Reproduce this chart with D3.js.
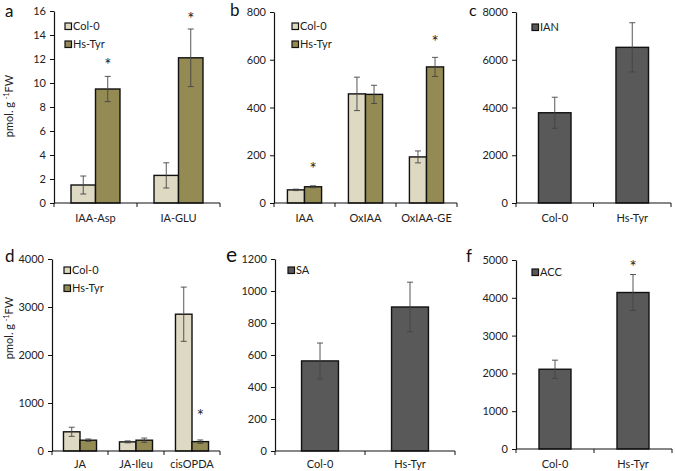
<!DOCTYPE html>
<html><head><meta charset="utf-8">
<script src="https://cdn.jsdelivr.net/npm/d3@7"></script>
<style>
html,body{margin:0;padding:0;background:#fff;}
svg{display:block;font-family:Lato,"Open Sans","Liberation Sans",sans-serif;}
</style></head>
<body><svg id="c" width="675" height="471"></svg>
<script>
// ---- data ----
const seriesNames = ["Col-0", "Hs-Tyr"];

const aCategories = ["IAA-Asp", "IA-GLU"];
const aCol0 = [1.5, 2.3];
const aCol0Err = [0.75, 1.05];
const aHsTyr = [9.5, 12.1];
const aHsTyrErr = [1.05, 2.4];
const aStars = [null, null, 11.8, 15.7]; // [col0..., hstyr...]
const aTicks = [0, 2, 4, 6, 8, 10, 12, 14, 16];

const bCategories = ["IAA", "OxIAA", "OxIAA-GE"];
const bCol0 = [55, 457, 193];
const bCol0Err = [3, 70, 25];
const bHsTyr = [68, 455, 570];
const bHsTyrErr = [4, 38, 40];
const bStars = [null, null, null, 160, null, 690];
const bTicks = [0, 200, 400, 600, 800];

const cCategories = ["Col-0", "Hs-Tyr"];
const cIAN = [3780, 6520];
const cIANErr = [650, 1030];
const cStars = [null, null];
const cTicks = [0, 2000, 4000, 6000, 8000];

const dCategories = ["JA", "JA-Ileu", "cisOPDA"];
const dCol0 = [400, 190, 2850];
const dCol0Err = [95, 20, 565];
const dHsTyr = [225, 225, 195];
const dHsTyrErr = [25, 45, 35];
const dStars = [null, null, null, null, null, 810];
const dTicks = [0, 1000, 2000, 3000, 4000];

const eCategories = ["Col-0", "Hs-Tyr"];
const eSA = [563, 900];
const eSAErr = [112, 155];
const eStars = [null, null];
const eTicks = [0, 200, 400, 600, 800, 1000, 1200];

const fCategories = ["Col-0", "Hs-Tyr"];
const fACC = [2110, 4140];
const fACCErr = [240, 475];
const fStars = [null, 4920];
const fTicks = [0, 1000, 2000, 3000, 4000, 5000];

// ---- styles ----
const COL0 = "#ddd9c3", HSTYR = "#948a54", GREY = "#595959";
const FS = 11;
const svg = d3.select("#c");

function panel(cfg) {
  const g = svg.append("g");
  const y = d3.scaleLinear().domain([0, cfg.ymax]).range([cfg.yBot, cfg.yTop]);
  const x = d3.scaleBand().domain(cfg.categories).range([cfg.x0, cfg.x1]).paddingInner(0).paddingOuter(0);
  const groupW = x.bandwidth() * cfg.ratio;
  const sx = d3.scaleBand().domain(d3.range(cfg.series.length)).range([0, groupW]);

  const bars = [];
  cfg.series.forEach((s, si) => {
    s.values.forEach((v, ci) => {
      bars.push({cat: cfg.categories[ci], si, v, err: s.err[ci], color: s.color,
                 star: cfg.stars[si * cfg.categories.length + ci]});
    });
  });
  const bx = d => x(d.cat) + (x.bandwidth() - groupW) / 2 + sx(d.si);

  g.selectAll("rect.bar").data(bars).join("rect")
    .attr("x", bx).attr("width", sx.bandwidth())
    .attr("y", d => y(d.v)).attr("height", d => y(0) - y(d.v))
    .attr("fill", d => d.color).attr("stroke", "#111").attr("stroke-width", 1.4);

  const eb = g.selectAll("g.err").data(bars).join("g").attr("stroke", "#444").attr("stroke-width", 0.9);
  eb.append("line")
    .attr("x1", d => bx(d) + sx.bandwidth() / 2).attr("x2", d => bx(d) + sx.bandwidth() / 2)
    .attr("y1", d => y(d.v - d.err)).attr("y2", d => y(d.v + d.err));
  [1, -1].forEach(sgn => {
    eb.append("line")
      .attr("x1", d => bx(d) + sx.bandwidth() / 2 - 3).attr("x2", d => bx(d) + sx.bandwidth() / 2 + 3)
      .attr("y1", d => y(d.v + sgn * d.err)).attr("y2", d => y(d.v + sgn * d.err));
  });

  g.selectAll("text.star").data(bars.filter(d => d.star != null)).join("text")
    .attr("x", d => bx(d) + sx.bandwidth() / 2).attr("y", d => y(d.star) + 10)
    .attr("text-anchor", "middle").attr("font-size", 17).attr("fill", "#222").text("*");

  // y axis
  const ya = g.append("g").attr("transform", `translate(${cfg.x0},0)`)
    .call(d3.axisLeft(y).tickValues(cfg.ticks).tickSize(4).tickSizeOuter(0).tickFormat(d3.format("d")));
  ya.attr("font-family", null);
  ya.select(".domain").attr("stroke", "#111").attr("stroke-width", 1.2);
  ya.selectAll(".tick line").attr("stroke", "#111");
  ya.selectAll(".tick text").attr("font-size", FS).attr("fill", "#222").attr("x", -8);

  // x axis with ticks at category boundaries
  const xa = g.append("g").attr("transform", `translate(0,${cfg.yBot})`);
  xa.append("line").attr("x1", cfg.x0).attr("x2", cfg.x1).attr("stroke", "#111").attr("stroke-width", 1.2);
  const bounds = cfg.categories.map(c => x(c)).concat([cfg.x1]);
  xa.selectAll("line.t").data(bounds).join("line")
    .attr("x1", d => d).attr("x2", d => d).attr("y1", 0).attr("y2", 4).attr("stroke", "#111");
  xa.selectAll("text").data(cfg.categories).join("text")
    .attr("x", d => x(d) + x.bandwidth() / 2).attr("y", cfg.catDy)
    .attr("text-anchor", "middle").attr("font-size", FS).attr("fill", "#222").text(d => d);

  // legend
  cfg.series.forEach((s, i) => {
    const ly = cfg.legY + i * 18;
    g.append("rect").attr("x", cfg.legX).attr("y", ly).attr("width", 6.5).attr("height", 6.5)
      .attr("fill", s.color).attr("stroke", "#111").attr("stroke-width", 1.2);
    g.append("text").attr("x", cfg.legX + 8).attr("y", ly + 7).attr("font-size", FS).attr("fill", "#222").text(s.name);
  });

  // panel letter
  g.append("text").attr("x", cfg.letX).attr("y", cfg.letY).attr("font-size", cfg.letFs).attr("fill", "#111").text(cfg.letter);

  if (cfg.yLabel) {
    const t = g.append("text").attr("transform", `translate(${cfg.yLabel[0]},${cfg.yLabel[1]}) rotate(-90)`)
      .attr("text-anchor", "middle").attr("font-size", FS).attr("fill", "#222");
    t.append("tspan").text("pmol. g ");
    t.append("tspan").attr("font-size", 7).attr("dy", -4).text("-1");
    t.append("tspan").attr("dy", 4).text("FW");
  }
}

panel({letter: "a", letX: 5, letY: 17, letFs: 17, categories: aCategories, ymax: 16, ticks: aTicks, catDy: 19,
  x0: 54, x1: 220, yTop: 11, yBot: 203, ratio: 0.59, legX: 65, legY: 23, stars: aStars, yLabel: [13, 106],
  series: [{name: seriesNames[0], values: aCol0, err: aCol0Err, color: COL0},
           {name: seriesNames[1], values: aHsTyr, err: aHsTyrErr, color: HSTYR}]});

panel({letter: "b", letX: 230, letY: 16, letFs: 17, categories: bCategories, ymax: 800, ticks: bTicks, catDy: 19,
  x0: 274, x1: 457, yTop: 12, yBot: 203, ratio: 0.56, legX: 292, legY: 23, stars: bStars,
  series: [{name: seriesNames[0], values: bCol0, err: bCol0Err, color: COL0},
           {name: seriesNames[1], values: bHsTyr, err: bHsTyrErr, color: HSTYR}]});

panel({letter: "c", letX: 469, letY: 16, letFs: 16, categories: cCategories, ymax: 8000, ticks: cTicks, catDy: 19,
  x0: 516, x1: 671, yTop: 12, yBot: 203, ratio: 0.42, legX: 532, legY: 24, stars: cStars,
  series: [{name: "IAN", values: cIAN, err: cIANErr, color: GREY}]});

panel({letter: "d", letX: 5, letY: 262, letFs: 17, categories: dCategories, ymax: 4000, ticks: dTicks, catDy: 17,
  x0: 52, x1: 220, yTop: 259, yBot: 451, ratio: 0.59, legX: 64, legY: 267, stars: dStars, yLabel: [13, 328],
  series: [{name: seriesNames[0], values: dCol0, err: dCol0Err, color: COL0},
           {name: seriesNames[1], values: dHsTyr, err: dHsTyrErr, color: HSTYR}]});

panel({letter: "e", letX: 226, letY: 262, letFs: 21, categories: eCategories, ymax: 1200, ticks: eTicks, catDy: 17,
  x0: 275, x1: 455, yTop: 259, yBot: 451, ratio: 0.41, legX: 288, legY: 267, stars: eStars,
  series: [{name: "SA", values: eSA, err: eSAErr, color: GREY}]});

panel({letter: "f", letX: 466, letY: 262, letFs: 17, categories: fCategories, ymax: 5000, ticks: fTicks, catDy: 19,
  x0: 516, x1: 672, yTop: 260, yBot: 449, ratio: 0.41, legX: 532, legY: 269, stars: fStars,
  series: [{name: "ACC", values: fACC, err: fACCErr, color: GREY}]});
</script></body></html>
